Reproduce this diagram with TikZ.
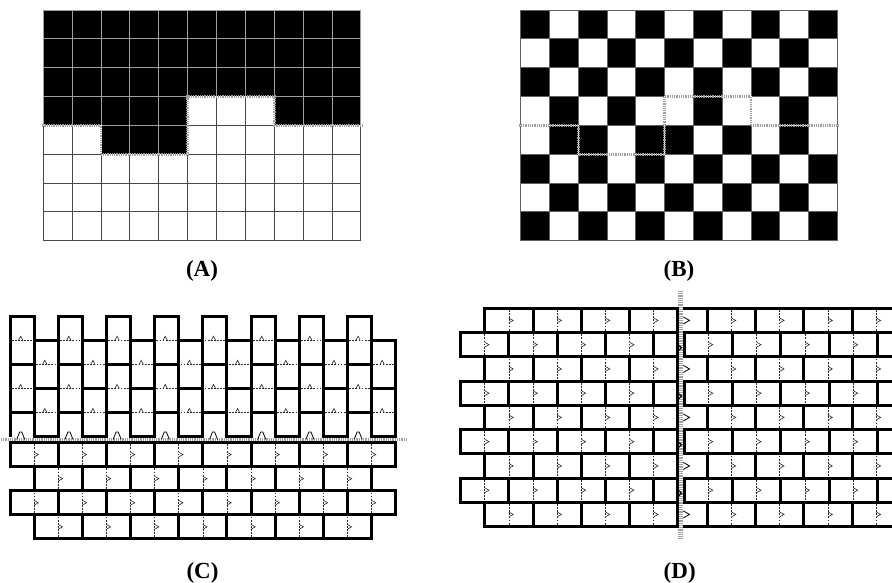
\documentclass[tikz,border=0pt]{standalone}
\usepackage{fontspec}
\setmainfont{Liberation Serif}
\newcommand\myhmid[3]{%
  \draw[midl] ({#1+1.8},{#3}) -- ({#2-1.8},{#3});
  \draw[hatl] ({(#1+#2)/2-3.6},{#3}) -- ({(#1+#2)/2-1.4},{#3-4.2}) -- ({(#1+#2)/2+0.8},{#3});
}
\newcommand\myvmid[3]{%
  \draw[midl] ({#1},{#2+1.8}) -- ({#1},{#3-1.8});
  \draw[hatl] ({#1},{(#2+#3)/2-2.4}) -- ({#1+4.3},{(#2+#3)/2}) -- ({#1},{(#2+#3)/2+2.4});
}
\begin{document}
\begin{tikzpicture}[x=1pt,y=-1pt,
  wall/.style={line width=3pt, draw=black},
  midl/.style={line width=0.55pt, draw=black!85, dash pattern=on 1.8pt off 1.3pt},
  hatl/.style={line width=0.6pt, draw=black!85},
  bhat/.style={line width=0.8pt, draw=black},
  band/.style={draw=gray!75, line width=#1, dash pattern=on 0.9pt off 0.9pt, preaction={draw=white, solid}},
  lab/.style={font=\bfseries\fontsize{23}{26}\selectfont, anchor=base, inner sep=0pt}
]
\useasboundingbox (0,0) rectangle (892,582);
\clip (0,0) rectangle (892,582);
% ---------------- panels A and B ----------------
\def\AX{43.3}\def\BX{520.7}\def\GY{10}\def\SA{28.87}\def\SB{28.78}\def\SY{28.84}
\foreach \r in {0,...,7}{\foreach \c in {0,...,10}{
  \pgfmathtruncatemacro\blk{or(\r<3,or(and(\r==3,or(\c<5,\c>7)),and(\r==4,and(\c>1,\c<5))))}
  \pgfmathtruncatemacro\bb{mod(\r+\c+\blk,2)}
  \ifnum\blk=1 \fill[black] ({\AX+\c*\SA},{\GY+\r*\SY}) rectangle ++(\SA,\SY);\fi
  \ifnum\bb=1 \fill[black] ({\BX+\c*\SB},{\GY+\r*\SY}) rectangle ++(\SB,\SY);\fi
}}
\foreach \r in {0,...,7}{\foreach \c in {0,...,10}{
  \pgfmathtruncatemacro\blk{or(\r<3,or(and(\r==3,or(\c<5,\c>7)),and(\r==4,and(\c>1,\c<5))))}
  \ifnum\blk=1
    \draw[black!38, line width=0.9pt] ({\AX+\c*\SA},{\GY+\r*\SY}) rectangle ++(\SA,\SY);
  \else
    \draw[black!72, line width=0.9pt] ({\AX+\c*\SA},{\GY+\r*\SY}) rectangle ++(\SA,\SY);
  \fi
  \draw[black!62, line width=0.8pt] ({\BX+\c*\SB},{\GY+\r*\SY}) rectangle ++(\SB,\SY);
}}
\foreach \X/\S in {\AX/\SA,\BX/\SB}{
  \draw[band=2.6] ({\X-1.5},{\GY+4*\SY}) -- ({\X+2*\S},{\GY+4*\SY}) -- ({\X+2*\S},{\GY+5*\SY})
    -- ({\X+5*\S},{\GY+5*\SY}) -- ({\X+5*\S},{\GY+3*\SY}) -- ({\X+8*\S},{\GY+3*\SY})
    -- ({\X+8*\S},{\GY+4*\SY}) -- ({\X+11*\S+1.5},{\GY+4*\SY});
}
% ---------------- panel C ----------------
\def\CX{10}\def\U{24.1}\def\LT{316.3}\def\BY{439.4}\def\RT{442.5}
\draw[band=3.3] (1,\BY) -- (407,\BY);
\foreach \j in {0,...,15}{
  \pgfmathsetmacro\xl{\CX+\j*\U}
  \pgfmathsetmacro\xr{\xl+\U}
  \pgfmathsetmacro\xm{\xl+\U/2-1.3}
  \ifodd\j\relax
    \draw[wall] (\xl,{\LT+\U}) rectangle (\xr,{\LT+3*\U});
    \draw[wall] (\xl,{\LT+3*\U}) rectangle (\xr,{\LT+5*\U});
    \myhmid{\xl}{\xr}{\LT+2*\U}
    \myhmid{\xl}{\xr}{\LT+4*\U}
  \else
    \draw[wall] (\xl,\LT) rectangle (\xr,{\LT+2*\U});
    \draw[wall] (\xl,{\LT+2*\U}) rectangle (\xr,{\LT+4*\U});
    \draw[wall] (\xl,{\LT+5*\U-0.3}) -- (\xl,{\LT+4*\U}) -- (\xr,{\LT+4*\U}) -- (\xr,{\LT+5*\U-0.3});
    \myhmid{\xl}{\xr}{\LT+\U}
    \myhmid{\xl}{\xr}{\LT+3*\U}
    \draw[bhat] ({\xm-4},\BY) -- ({\xm-1},{\BY-7.5}) -- ({\xm+1},{\BY-7.5}) -- ({\xm+4},\BY);
  \fi
}
\foreach \k in {0,...,3}{
  \pgfmathsetmacro\yt{\RT+\k*\U}
  \pgfmathsetmacro\yb{\yt+\U}
  \ifodd\k\relax
    \foreach \i in {0,...,6}{
      \pgfmathsetmacro\xl{\CX+\U+2*\i*\U}
      \draw[wall] (\xl,\yt) rectangle ({\xl+2*\U},\yb);
      \myvmid{\xl+\U}{\yt}{\yb}
    }
  \else
    \foreach \i in {0,...,7}{
      \pgfmathsetmacro\xl{\CX+2*\i*\U}
      \draw[wall] (\xl,\yt) rectangle ({\xl+2*\U},\yb);
      \myvmid{\xl+\U}{\yt}{\yb}
    }
  \fi
}
% ---------------- panel D ----------------
\def\DT{308.3}\def\DU{24.25}\def\UX{24.15}
\draw[band=5.5] (680.5,291) -- (680.5,538);
\foreach \k in {0,...,8}{
  \pgfmathsetmacro\yt{\DT+\k*\DU}
  \pgfmathsetmacro\yb{\yt+\DU}
  \pgfmathsetmacro\ym{\yt+\DU/2}
  \ifodd\k\relax
    \foreach \i in {0,...,3}{
      \pgfmathsetmacro\xl{460.55+2*\i*\UX}
      \draw[wall] (\xl,\yt) rectangle ({\xl+2*\UX},\yb);
      \myvmid{\xl+\UX}{\yt}{\yb}
    }
    \draw[wall] (653.75,\yt) rectangle (677.9,\yb);
    \draw[bhat, line width=1.1pt] (678.6,{\ym+0.3}) -- (681.6,{\ym+3}) -- (678.6,{\ym+5.7});
    \foreach \i in {0,...,4}{
      \pgfmathsetmacro\xl{684.3+2*\i*\UX}
      \draw[wall] (\xl,\yt) rectangle ({\xl+2*\UX},\yb);
      \myvmid{\xl+\UX}{\yt}{\yb}
    }
  \else
    \foreach \i in {0,...,3}{
      \pgfmathsetmacro\xl{484.7+2*\i*\UX}
      \draw[wall] (\xl,\yt) rectangle ({\xl+2*\UX},\yb);
      \myvmid{\xl+\UX}{\yt}{\yb}
    }
    \draw[wall] (683.3,\yt) -- (707.3,\yt) -- (707.3,\yb) -- (683.3,\yb);
    \draw[bhat] (683.3,{\ym-3.5}) -- (689.5,\ym) -- (683.3,{\ym+3.5});
    \foreach \i in {0,...,3}{
      \pgfmathsetmacro\xl{707.3+2*\i*\UX}
      \draw[wall] (\xl,\yt) rectangle ({\xl+2*\UX},\yb);
      \myvmid{\xl+\UX}{\yt}{\yb}
    }
  \fi
}
% ---------------- labels ----------------
\node[lab] (labA) at (202,276) {(A)};
\node[lab] (labB) at (679,276) {(B)};
\node[lab] (labC) at (202.5,578) {(C)};
\node[lab] (labD) at (679.7,578) {(D)};
\end{tikzpicture}
\end{document}
